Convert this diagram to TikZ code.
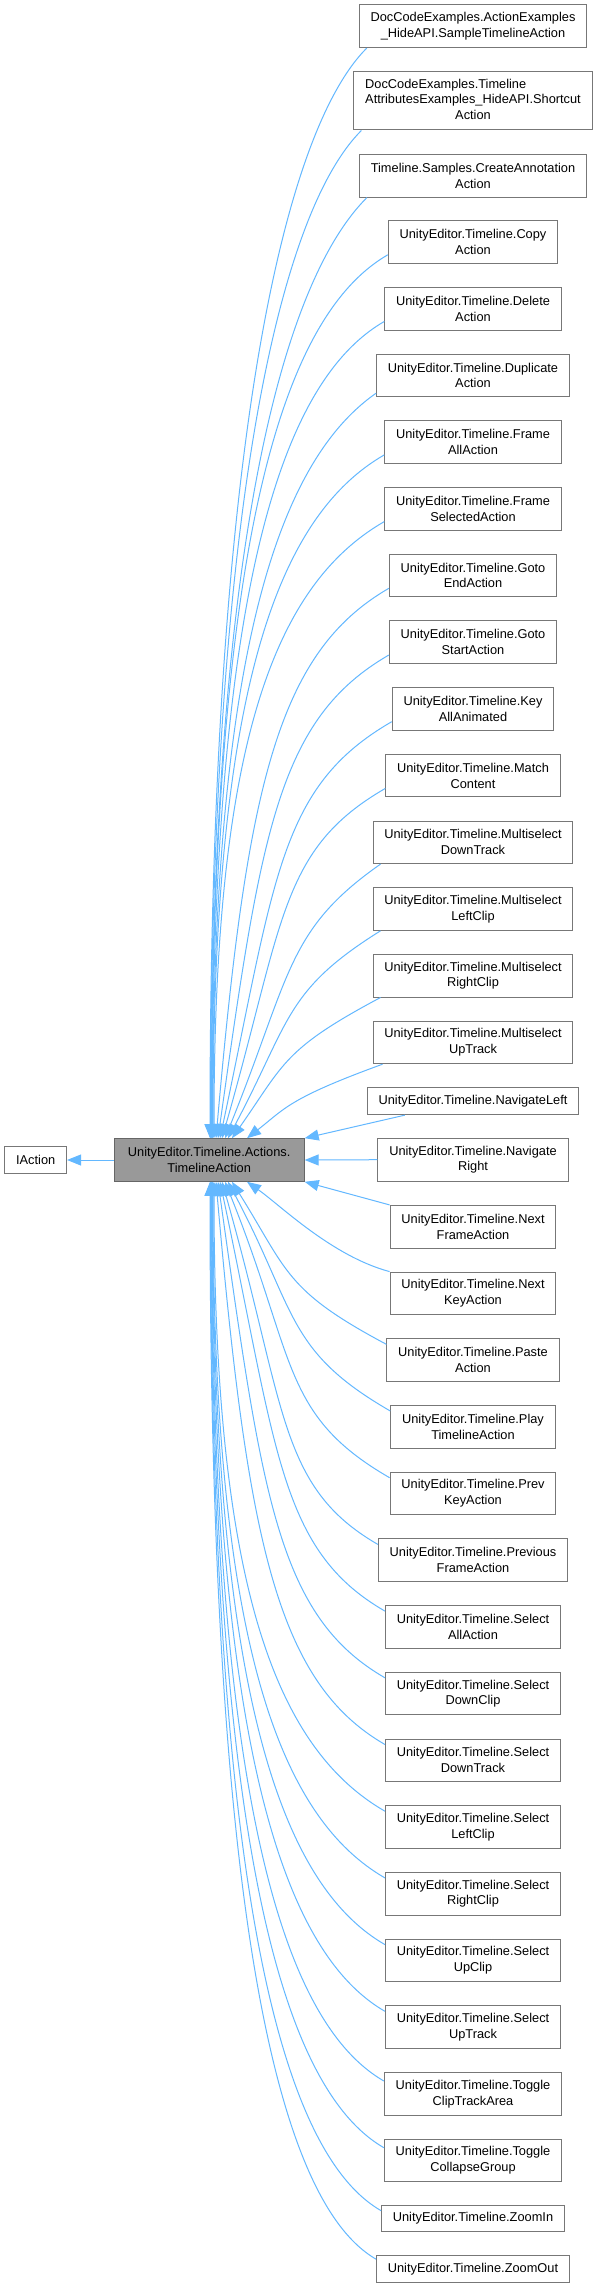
\documentclass[tikz,border=0pt]{standalone}
\usepackage{fontspec}
\setmainfont{Liberation Sans}
\usetikzlibrary{arrows.meta}
\definecolor{edgeblue}{HTML}{63B8FF}
\definecolor{boxborder}{HTML}{777777}
\definecolor{basefill}{HTML}{999999}
\definecolor{baseborder}{HTML}{666666}
\tikzset{
  cls/.style={draw=boxborder, line width=1pt, fill=white, align=center,
    font=\fontsize{12.8pt}{15.8pt}\selectfont, inner xsep=11.3pt, inner ysep=2pt},
  oneline/.style={cls, minimum height=26.7pt},
  twoline/.style={cls, minimum height=42.6pt},
  threeline/.style={cls, minimum height=58.3pt},
  basecls/.style={twoline, fill=basefill, draw=baseborder, minimum width=190pt},
  inh/.style={draw=edgeblue, line width=1pt, -{Triangle[length=14pt,width=11pt]}},
}
\begin{document}
\begin{tikzpicture}[x=1pt,y=1pt]
\fill[white] (0,0) rectangle (600,-2288);
\useasboundingbox (0,0) rectangle (600,-2288);

\node[basecls] (base) at (209.2,-1160) {UnityEditor.Timeline.Actions.\\TimelineAction};
\node[oneline] (iaction) at (35.7,-1160) {IAction};

\node[twoline] (c1) at (473,-26.3) {DocCodeExamples.ActionExamples\\\_HideAPI.SampleTimelineAction};
\node[threeline] (c2) at (473,-100.8) {\begin{tabular}{@{}l@{}}DocCodeExamples.Timeline\\AttributesExamples\_HideAPI.Shortcut\\\multicolumn{1}{@{}c@{}}{Action}\end{tabular}};
\node[twoline] (c3) at (473,-175.7) {Timeline.Samples.CreateAnnotation\\Action};

\foreach \k/\t in {4/{Copy\\Action}, 5/{Delete\\Action}, 6/{Duplicate\\Action},
  7/{Frame\\AllAction}, 8/{Frame\\SelectedAction}, 9/{Goto\\EndAction},
  10/{Goto\\StartAction}, 11/{Key\\AllAnimated}, 12/{Match\\Content},
  13/{Multiselect\\DownTrack}, 14/{Multiselect\\LeftClip}, 15/{Multiselect\\RightClip},
  16/{Multiselect\\UpTrack}}
  \node[twoline] (c\k) at (473,{-(242+(\k-4)*66.7)}) {UnityEditor.Timeline.\t};

\node[oneline] (c17) at (473,-1101.3) {UnityEditor.Timeline.NavigateLeft};
\node[twoline] (c18) at (473,-1159.7) {UnityEditor.Timeline.Navigate\\Right};

\foreach \k/\t in {19/{Next\\FrameAction}, 20/{Next\\KeyAction}, 21/{Paste\\Action},
  22/{Play\\TimelineAction}, 23/{Prev\\KeyAction}, 24/{Previous\\FrameAction},
  25/{Select\\AllAction}, 26/{Select\\DownClip}, 27/{Select\\DownTrack},
  28/{Select\\LeftClip}, 29/{Select\\RightClip}, 30/{Select\\UpClip},
  31/{Select\\UpTrack}, 32/{Toggle\\ClipTrackArea}, 33/{Toggle\\CollapseGroup}}
  \node[twoline] (c\k) at (473,{-(1226.7+(\k-19)*66.7)}) {UnityEditor.Timeline.\t};

\node[oneline] (c34) at (473,-2218.5) {UnityEditor.Timeline.ZoomIn};
\node[oneline] (c35) at (473,-2269) {UnityEditor.Timeline.ZoomOut};

% inheritance to IAction
\draw[inh] (base.west) -- (iaction.east);

% edges from upper children
\foreach \k/\sx/\sy/\dx/\o/\i/\a/\b in {
  1/8/0/0.8/225/90/116/698, 2/8/0/1.3/225/90/112/646, 3/8/0/1.8/225/90/117/603,
  4/0/9/2.3/210/90/132/566, 5/0/9/2.8/210/90/128/523, 6/0/4/3.3/215/90/123/477,
  7/0/9/3.8/210/90/128/438, 8/0/9/4.8/210/90/127/395, 9/0/9/6.8/210/85/129/353,
  10/0/9/8.8/210/82/128/310, 11/0/9/10.8/210/78/130/267, 12/0/9/12.8/210/74/122/225,
  13/8/0/15.8/215/68/115/176, 14/8/0/18.8/212/62/113/133, 15/8/0/22.8/208/55/110/91,
  16/10/0/37.8/200/38/100/48}
  \draw[inh] ([xshift=\sx pt,yshift=\sy pt]c\k.south west)
    .. controls +(\o:\a pt) and +(\i:\b pt) .. ([xshift=\dx pt]base.north);

\draw[inh] ([xshift=38pt]c17.south west) -- (base.north east);
\draw[inh] (c18.west) -- (base.east);
\draw[inh] (c19.north west) -- (base.south east);

% edges from lower children
\foreach \k/\sy/\dx/\o/\i/\a/\b in {
  20/0/37.8/165/-35/60/40, 21/-6/22.8/152/-58/115/105, 22/-6/18.8/150/-62/121/147,
  23/-6/15.8/150/-68/126/190, 24/-6/12.8/150/-74/116/233, 25/-6/10.8/150/-78/122/275,
  26/-6/8.8/150/-82/124/318, 27/-6/6.8/150/-85/125/361, 28/-6/4.8/150/-90/127/403,
  29/-6/3.8/150/-90/128/446, 30/-6/3.3/150/-90/128/489, 31/-6/2.8/150/-90/128/532,
  32/-9/2.3/150/-90/129/576, 33/-9/1.8/150/-90/129/619, 34/-6/1.3/150/-90/128/659,
  35/-4/0.8/150/-90/124/690}
  \draw[inh] ([yshift=\sy pt]c\k.north west)
    .. controls +(\o:\a pt) and +(\i:\b pt) .. ([xshift=\dx pt]base.south);
\end{tikzpicture}
\end{document}
